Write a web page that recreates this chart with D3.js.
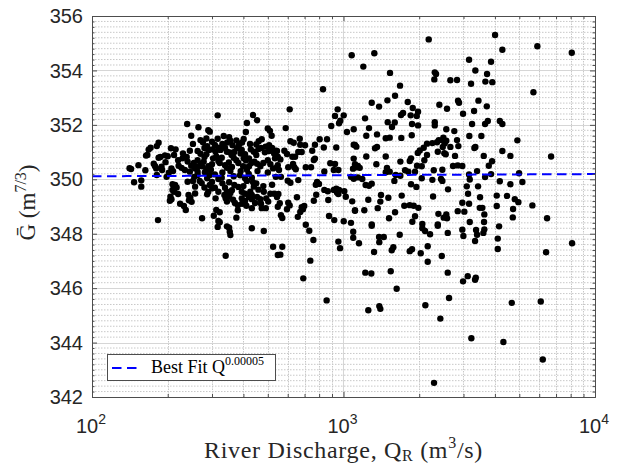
<!DOCTYPE html>
<html>
<head>
<meta charset="utf-8">
<script src="https://cdn.jsdelivr.net/npm/d3@7"></script>
<style>
  html, body { margin: 0; padding: 0; background: #fff; }
  svg { display: block; }
</style>
</head>
<body>
<svg id="chart" width="622" height="465"></svg>
<script>
// Mean G per sample against river discharge: [Q_R (m^3/s), G (m^7/3)]
const observations = [
  [239,352.03],[265,351.91],[248,351.60],[252,351.30],[184,351.34],[181,351.22],[171,351.16],[168,351.09],[206,351.14],[187,350.82],
  [184,350.79],[166,350.89],[164,350.87],[195,350.88],[212,350.89],[220,350.70],[229,350.77],[238,350.82],[196,350.63],[176,350.57],
  [178,350.49],[180,350.40],[189,350.46],[190,350.34],[153,350.52],[141,350.41],[143,350.38],[163,350.33],[181,350.16],[207,350.40],
  [210,350.30],[221,350.50],[202,350.24],[198,350.09],[227,350.42],[234,350.34],[248,350.50],[254,350.60],[257,350.40],[263,350.28],
  [245,350.28],[255,350.09],[240,349.91],[252,349.94],[147,349.89],[157,349.96],[157,349.73],[209,349.82],[214,349.79],[217,349.70],
  [209,349.61],[212,349.54],[220,349.46],[205,349.36],[204,349.21],[207,349.27],[242,349.42],[246,349.32],[224,349.10],[232,349.02],
  [236,348.87],[243,349.23],[249,349.17],[257,349.73],[257,349.48],[183,348.50],
  [316,352.35],[437,352.36],[453,352.17],[413,352.07],[290,351.80],[294,351.75],[500,351.87],[510,351.78],[518,351.60],[409,351.74],
  [334,351.59],[351,351.55],[355,351.42],[316,351.49],[270,351.44],[276,351.36],[375,351.43],[401,351.48],[473,351.47],[506,351.25],
  [308,351.26],[318,351.16],[324,351.08],[301,351.10],[384,351.26],[377,351.14],[394,351.08],[450,351.28],[459,351.11],[287,351.22],
  [292,351.08],[263,351.04],[270,350.94],[280,350.82],[285,350.92],[344,351.01],[353,350.99],[359,350.89],[406,350.92],[401,350.77],
  [409,350.70],[421,350.77],[440,351.01],[450,350.89],[487,350.99],[506,351.04],[544,351.04],[303,350.77],[312,350.84],[328,350.79],
  [318,350.67],[366,350.79],[375,350.70],[382,350.60],[442,350.65],[453,350.57],[467,350.48],[263,350.70],[270,350.57],[274,350.48],
  [290,350.48],[297,350.35],[338,350.52],[344,350.42],[399,350.48],[413,350.35],[421,350.48],[500,350.70],[512,350.55],[534,350.77],
  [548,350.52],[281,350.26],[294,350.16],[287,350.04],[308,350.18],[318,350.01],[328,350.06],[366,350.11],[368,349.79],[351,349.89],
  [406,350.04],[413,349.94],[432,350.06],[437,349.89],[440,349.73],[263,350.16],[268,349.94],[273,349.86],[294,349.79],[301,349.67],
  [290,349.54],[287,349.45],[308,349.69],[318,349.54],[338,349.69],[344,349.54],[382,349.72],[394,349.54],[406,349.47],[459,349.62],
  [482,349.54],[512,349.47],[426,349.54],[432,349.42],[432,349.27],[336,349.42],[340,349.30],[344,349.18],[351,349.36],[364,349.25],
  [370,349.13],[380,349.05],[406,349.20],[411,349.03],[394,349.30],[445,349.13],[453,349.35],[467,349.27],[493,349.30],[502,349.18],
  [531,349.47],[544,349.35],[473,348.94],[491,348.94],[432,348.94],[380,348.86],[312,348.87],[322,348.79],[305,348.66],[274,348.57],
  [318,348.47],[322,348.42],[375,348.59],[344,348.27],[351,348.22],[353,348.07],[355,347.95],[316,348.25],[432,348.20],[482,348.10],
  [525,347.52],[548,347.22],[340,347.19],
  [285,351.50],[300,351.38],[330,351.30],[345,351.35],[362,351.25],[395,351.35],[425,351.30],[460,351.40],[490,351.20],[520,351.15],
  [280,351.15],[310,351.02],[338,351.15],[368,351.00],[390,350.95],[428,351.10],[470,351.15],[530,350.95],
  [278,350.65],[300,350.55],[322,350.60],[350,350.62],[360,350.45],[390,350.30],[430,350.60],[480,350.60],[525,350.40],
  [285,350.35],[330,350.25],[355,350.30],[388,350.15],[420,350.20],[455,350.30],[500,350.25],
  [262,350.45],[240,350.65],[230,350.95],[215,351.10],[200,350.85],[245,351.05],
  [280,349.70],[300,349.90],[330,349.85],[360,349.60],[400,349.75],[450,349.85],[480,349.75],[520,349.80],
  [310,349.30],[355,349.50],[420,349.35],[470,349.10],[395,349.10],
  [829,353.31],[611,352.57],[948,352.57],[925,352.33],[971,352.15],[1002,352.35],[960,352.06],[894,351.96],[589,351.88],[1032,351.74],
  [1098,351.84],[615,351.40],[634,351.34],[670,351.49],[673,351.27],[703,351.25],[804,351.47],[860,351.47],[770,351.27],[835,351.17],
  [936,351.17],[1098,351.27],[1125,351.20],[538,351.05],[582,351.05],[596,350.93],[661,351.00],[682,351.00],[642,350.83],[626,350.83],
  [751,351.05],[770,350.76],[762,350.71],[548,350.83],[561,350.73],[630,350.56],[637,350.44],[603,350.44],[646,350.37],[544,350.44],
  [554,350.34],[708,350.44],[743,350.44],[886,350.59],[925,350.56],[915,350.34],[954,350.34],[1098,350.76],[1091,350.39],[1125,350.44],
  [1141,350.49],[839,350.29],[538,350.09],[564,350.09],[600,349.95],[615,349.87],[661,349.97],[785,349.90],[776,349.80],[799,349.83],
  [1071,350.09],[1098,350.02],[1141,350.07],[839,349.61],[866,349.56],[936,349.65],[960,349.61],[942,349.51],[954,349.46],[915,349.61],
  [1007,349.56],[1021,349.36],[551,349.46],[653,349.34],[779,349.43],[762,349.21],[870,349.24],[1083,349.19],[558,349.12],[548,348.99],
  [603,349.14],[611,349.04],[596,348.90],[682,348.97],[698,349.02],[690,348.90],[673,348.80],[1111,348.84],[564,348.68],[571,348.58],
  [658,348.62],[876,348.65],[919,348.50],[1002,348.46],[1071,348.40],[708,348.33],[731,348.11],[1093,348.07],[1093,347.85],[1152,347.65],
  [759,347.77],[954,347.71],[969,347.47],[571,347.52],[561,347.23],[738,347.01],[692,346.36],[857,345.55],
  [1221,346.57],[1290,346.54],[1255,345.19],[1388,345.34],[1401,345.24],[1323,347.33],[1385,347.88],[1446,347.88],[1388,347.69],[1295,348.29],
  [1541,346.62],[1627,345.98],[1555,347.39],[1578,347.50],[1673,347.96],[1834,347.36],[1873,347.43],[2028,347.28],[2116,345.37],[2162,346.97],
  [2162,347.54],[2058,348.20],[2110,348.10],[2209,347.98],[2371,348.29],[2459,347.18],[2427,344.88],[2291,342.52],
  [2846,348.83],[3023,348.81],[2563,348.71],[2580,348.57],[3631,348.71],[4723,348.91],[4711,348.60],[6448,348.57],[3177,348.43],[3621,348.43],
  [4155,348.27],[2968,348.15],[2997,347.92],[3366,348.14],[3397,347.96],[3599,348.03],[3631,348.16],[3335,347.73],[2597,348.03],[4106,347.82],
  [4106,347.44],[8107,347.65],[6390,347.32],[2597,346.57],[3119,346.44],[2988,346.25],[3357,346.38],[3335,346.31],[2628,345.64],[4667,345.46],
  [6087,345.51],[3224,344.16],[4323,344.02],[6200,343.38],
  [4005,355.30],[4282,354.76],[5900,354.89],[8085,354.65],[3157,354.39],[3861,354.32],[3344,354.00],[3722,353.87],[2660,353.64],[2828,353.65],
  [3215,353.51],[3665,353.59],[3906,353.57],[5690,353.20],[2854,352.89],[2880,352.81],[3440,352.89],[2580,352.59],[3713,352.68],[2988,352.41],
  [3305,352.51],[3245,352.03],[3655,352.03],[3748,352.14],[4183,352.14],[4282,352.03],[2563,351.84],[2758,351.77],[3165,351.59],[3533,351.59],
  [4913,351.43],[2563,351.42],[2828,351.44],[2862,351.22],[2660,351.19],[3314,351.15],[3344,351.19],[4282,351.04],[4608,350.86],[6689,350.84],
  [2550,350.92],[2776,350.86],[3611,350.86],[3897,350.66],[3782,350.50],[2726,350.49],[2846,350.51],[2968,350.49],[3397,350.30],[3157,350.18],
  [3177,349.99],[3655,350.08],[3861,350.19],[4990,350.22],[5143,349.90],[4183,349.93],[4608,349.82],[2604,349.63],[3091,349.74],[3428,349.74],
  [3128,349.47],[3491,349.34],[4067,349.40],[4471,349.39],[4798,349.27],[4958,349.16],[2968,349.14],[3157,349.10],[4067,349.02],[5637,349.04],
  [3482,348.95],[3565,348.95],
  [2182,355.14],[1078,354.56],[1326,354.63],[1199,354.14],[1531,353.91],[1678,353.44],[2306,353.93],[2334,353.87],[2297,353.67],[1295,352.81],
  [1385,352.67],[1495,352.90],[1603,353.07],[1218,352.24],[1263,351.88],[1499,352.10],[1559,351.92],[1599,352.09],[1801,352.84],[1885,352.62],
  [1979,352.48],[1850,352.35],[1956,352.33],[1725,352.44],[1693,352.36],[1873,352.03],[1979,351.98],[1868,351.62],[1698,351.52],[2405,352.74],
  [2306,352.10],[2306,351.98],[2495,351.53],[2393,351.44],[2527,351.32],[2481,351.19],[1232,351.60],[1359,351.65],[1527,351.53],[1472,351.51],
  [1111,351.26],[1335,351.14],[1359,351.19],[2148,351.31],[2256,351.33],[2355,351.36],[2472,351.43],[2010,351.06],[2084,351.16],[2371,351.01],
  [2517,350.96],[1232,350.84],[1472,350.84],[2148,350.89],[1974,350.97],[1856,350.77],[1834,350.67],[1683,350.65],[1111,350.55],[1160,350.42],
  [1351,350.55],[1489,350.42],[1527,350.28],[1472,350.26],[2096,350.70],[2047,350.48],[1961,350.50],[1925,350.28],[2285,350.33],[2472,350.35],
  [1757,350.33],[1810,350.28],[1613,350.16],[1683,350.13],[1593,349.94],[1188,350.01],[1225,349.79],[1263,349.76],[1295,349.84],[1856,349.82],
  [1949,349.72],[2256,349.98],[2442,350.01],[2472,349.94],[2047,350.04],[2271,349.37],[1255,349.25],[1410,349.42],[1508,349.32],[1401,349.18],
  [1704,349.40],[1745,349.03],[1834,349.05],[1902,349.03],[1984,348.95],[1111,348.86],[1210,348.86],[1368,348.94],[1603,348.79],[1517,348.57],
  [1925,348.64],[1878,348.44],[2384,348.73],[2503,348.59],[1295,348.34],[2058,348.36],[2371,348.34]
];

// Power-law best fit G = c * Q^b
const fitExponent = 0.00005;
const fitCoefficient = 350.03;
const fitLabel = "Best Fit Q";
const fitLabelExponent = "0.00005";

// Axis ticks
const xDomain = [100, 10000];
const yDomain = [342, 356];
const xMajorTicks = [100, 1000, 10000];
const xMajorExponents = ["2", "3", "4"];
const xMinorTicks = [200, 300, 400, 500, 600, 700, 800, 900, 2000, 3000, 4000, 5000, 6000, 7000, 8000, 9000];
const yMajorTicks = [342, 344, 346, 348, 350, 352, 354, 356];
const yMinorStep = 0.2;

const svg = d3.select("#chart");
const plotLeft = 92, plotRight = 595, plotTop = 16, plotBottom = 397;

const x = d3.scaleLog().domain(xDomain).range([plotLeft, plotRight]);
const y = d3.scaleLinear().domain(yDomain).range([plotBottom, plotTop]);

const yMinorTicks = d3.range(yDomain[0], yDomain[1] + 1e-9, yMinorStep)
  .map(v => +v.toFixed(2))
  .filter(v => !yMajorTicks.includes(v));

// Plot background
svg.append("rect").attr("x", plotLeft).attr("y", plotTop)
  .attr("width", plotRight - plotLeft).attr("height", plotBottom - plotTop).attr("fill", "#fff");

// Minor grid (dotted)
const grid = svg.append("g");
grid.selectAll("line.ymin").data(yMinorTicks).join("line")
  .attr("x1", plotLeft).attr("x2", plotRight)
  .attr("y1", d => y(d)).attr("y2", d => y(d))
  .attr("stroke", "#c8c8c8").attr("stroke-width", 1).attr("stroke-dasharray", "1.5,1.5");
grid.selectAll("line.xmin").data(xMinorTicks).join("line")
  .attr("y1", plotTop).attr("y2", plotBottom)
  .attr("x1", d => Math.round(x(d)) + 0.5).attr("x2", d => Math.round(x(d)) + 0.5)
  .attr("stroke", "#c8c8c8").attr("stroke-width", 1).attr("stroke-dasharray", "1.5,1");

// Major grid
grid.selectAll("line.ymaj").data(yMajorTicks).join("line")
  .attr("x1", plotLeft).attr("x2", plotRight)
  .attr("y1", d => Math.round(y(d)) + 0.5).attr("y2", d => Math.round(y(d)) + 0.5)
  .attr("stroke", "#d6d6d6").attr("stroke-width", 1);
grid.selectAll("line.xmaj").data(xMajorTicks).join("line")
  .attr("y1", plotTop).attr("y2", plotBottom)
  .attr("x1", d => Math.round(x(d)) + 0.5).attr("x2", d => Math.round(x(d)) + 0.5)
  .attr("stroke", "#d6d6d6").attr("stroke-width", 1);

// Scatter points
svg.append("g").selectAll("circle").data(observations).join("circle")
  .attr("cx", d => x(d[0])).attr("cy", d => y(d[1]))
  .attr("r", 3.2).attr("fill", "#000");

// Best-fit curve
const fitQ = d3.range(0, 101).map(i => Math.pow(10, 2 + i * 0.02));
svg.append("path")
  .datum(fitQ)
  .attr("fill", "none").attr("stroke", "#0000ff").attr("stroke-width", 2)
  .attr("stroke-dasharray", "9.5,5.5")
  .attr("d", d3.line().x(q => x(q)).y(q => y(fitCoefficient * Math.pow(q, fitExponent))));

// Axes (box with inward ticks)
const axisColor = "#4d4d4d";
const tickFmt = () => "";
const axB = d3.axisBottom(x).tickValues(xMajorTicks).tickFormat(tickFmt).tickSizeInner(-5).tickSizeOuter(0);
const axT = d3.axisTop(x).tickValues(xMajorTicks).tickFormat(tickFmt).tickSizeInner(-5).tickSizeOuter(0);
const axBm = d3.axisBottom(x).tickValues(xMinorTicks).tickFormat(tickFmt).tickSizeInner(-3).tickSizeOuter(0);
const axTm = d3.axisTop(x).tickValues(xMinorTicks).tickFormat(tickFmt).tickSizeInner(-3).tickSizeOuter(0);
const axL = d3.axisLeft(y).tickValues(yMajorTicks).tickFormat(tickFmt).tickSizeInner(-5).tickSizeOuter(0);
const axR = d3.axisRight(y).tickValues(yMajorTicks).tickFormat(tickFmt).tickSizeInner(-5).tickSizeOuter(0);
const axLm = d3.axisLeft(y).tickValues(yMinorTicks).tickFormat(tickFmt).tickSizeInner(-2.5).tickSizeOuter(0);
const axRm = d3.axisRight(y).tickValues(yMinorTicks).tickFormat(tickFmt).tickSizeInner(-2.5).tickSizeOuter(0);

[[axB, `translate(0,${plotBottom})`], [axBm, `translate(0,${plotBottom})`],
 [axT, `translate(0,${plotTop})`], [axTm, `translate(0,${plotTop})`],
 [axL, `translate(${plotLeft},0)`], [axLm, `translate(${plotLeft},0)`],
 [axR, `translate(${plotRight},0)`], [axRm, `translate(${plotRight},0)`]].forEach(([ax, tr]) => {
  const g = svg.append("g").attr("transform", tr).call(ax);
  g.select(".domain").attr("stroke", axisColor);
  g.selectAll(".tick line").attr("stroke", axisColor);
});

// Y tick labels
svg.append("g").selectAll("text").data(yMajorTicks).join("text")
  .attr("x", plotLeft - 9).attr("y", d => y(d))
  .attr("dy", "0.36em").attr("text-anchor", "end")
  .attr("font-family", "Liberation Sans, Arial, sans-serif").attr("font-size", 20)
  .attr("fill", "#262626")
  .text(d => d);

// X tick labels as powers of ten
const xl = svg.append("g").selectAll("text").data(xMajorTicks).join("text")
  .attr("x", d => x(d) - 1).attr("y", plotBottom + 36)
  .attr("text-anchor", "middle")
  .attr("font-family", "Liberation Sans, Arial, sans-serif").attr("font-size", 20)
  .attr("fill", "#262626");
xl.append("tspan").text("10");
xl.append("tspan").attr("font-size", 14).attr("dy", -9).text((d, i) => xMajorExponents[i]);

// Axis titles
const serif = "Liberation Serif, Times New Roman, serif";
const xt = svg.append("text")
  .attr("x", (plotLeft + plotRight) / 2).attr("y", 458)
  .attr("text-anchor", "middle")
  .attr("font-family", serif).attr("font-size", 24).attr("letter-spacing", 0.7)
  .attr("fill", "#262626");
xt.append("tspan").text("River Discharge, Q");
xt.append("tspan").attr("font-size", 16).attr("dy", 3).text("R");
xt.append("tspan").attr("dy", -3).text(" (m");
xt.append("tspan").attr("font-size", 16).attr("dy", -10).text("3");
xt.append("tspan").attr("dy", 10).text("/s)");

const yt = svg.append("text")
  .attr("transform", `translate(35,${(plotTop + plotBottom) / 2 - 4}) rotate(-90)`)
  .attr("text-anchor", "middle")
  .attr("font-family", serif).attr("font-size", 23).attr("fill", "#262626");
yt.append("tspan").text("\u1E20 (m");
yt.append("tspan").attr("font-size", 16).attr("dy", -9).text("7/3");
yt.append("tspan").attr("dy", 9).text(")");

// Legend
const lg = svg.append("g");
lg.append("rect").attr("x", 107.5).attr("y", 354.5).attr("width", 168).attr("height", 26)
  .attr("fill", "#fff").attr("stroke", "#4d4d4d").attr("stroke-width", 1);
lg.append("line").attr("x1", 112).attr("x2", 140).attr("y1", 368).attr("y2", 368)
  .attr("stroke", "#0000ff").attr("stroke-width", 2).attr("stroke-dasharray", "9.5,5.5");
const lt = lg.append("text").attr("x", 151).attr("y", 372.5)
  .attr("font-family", serif).attr("font-size", 18).attr("fill", "#000");
lt.append("tspan").text(fitLabel);
lt.append("tspan").attr("font-size", 12).attr("dy", -8).text(fitLabelExponent);
</script>
</body>
</html>
